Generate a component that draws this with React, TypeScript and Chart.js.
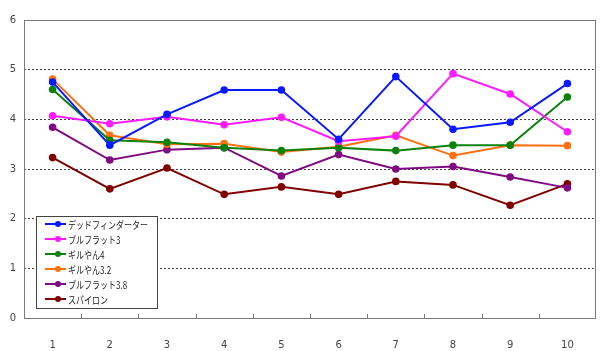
import React, { useEffect, useRef } from "react";
import { Chart, registerables } from "chart.js";

Chart.register(...registerables);

const categories = ["1", "2", "3", "4", "5", "6", "7", "8", "9", "10"];
const seriesNames = ["デッドフィンダーター", "ブルフラット3", "ギルやん4", "ギルやん3.2", "ブルフラット3.8", "スパイロン"];
const deadFinder = [4.75, 3.48, 4.1, 4.59, 4.59, 3.6, 4.86, 3.8, 3.94, 4.72];
const bullFlat3 = [4.07, 3.91, 4.05, 3.89, 4.04, 3.56, 3.66, 4.92, 4.51, 3.75];
const giruyan4 = [4.6, 3.58, 3.54, 3.43, 3.37, 3.43, 3.37, 3.48, 3.48, 4.45];
const giruyan32 = [4.81, 3.68, 3.5, 3.51, 3.34, 3.45, 3.68, 3.27, 3.48, 3.47];
const bullFlat38 = [3.84, 3.18, 3.39, 3.43, 2.86, 3.29, 3.0, 3.05, 2.84, 2.62];
const spiron = [3.23, 2.6, 3.02, 2.49, 2.64, 2.49, 2.75, 2.68, 2.27, 2.7];
const seriesColors = ["#0a1aff", "#ff1aff", "#0b820b", "#ff7010", "#800a80", "#800000"];
const yTicks = [0, 1, 2, 3, 4, 5, 6];

const frameAndLegend = {
  id: "frameAndLegend",
  afterDraw(chart: any) {
    const ctx = chart.ctx;
    const a = chart.chartArea;
    ctx.save();
    ctx.strokeStyle = "#7a7a7a";
    ctx.lineWidth = 1;
    ctx.strokeRect(Math.round(a.left) + 0.5, Math.round(a.top) + 0.5, Math.round(a.right - a.left) - 1, Math.round(a.bottom - a.top));
    const n = categories.length;
    const step = (a.right - a.left) / n;
    for (let i = 1; i < n; i++) {
      const x = Math.round(a.left + step * i) + 0.5;
      ctx.beginPath();
      ctx.moveTo(x, a.bottom);
      ctx.lineTo(x, a.bottom - 4);
      ctx.stroke();
    }
    const bx = a.left + 12;
    const by = 216;
    const bw = 121;
    const bh = 92;
    ctx.fillStyle = "#ffffff";
    ctx.fillRect(bx, by, bw, bh);
    ctx.strokeStyle = "#444";
    ctx.strokeRect(bx + 0.5, by + 0.5, bw, bh);
    ctx.font = "10px 'Noto Sans CJK JP'";
    ctx.textBaseline = "middle";
    chart.data.datasets.forEach((ds: any, i: number) => {
      const y = by + 8 + i * 15;
      ctx.strokeStyle = ds.borderColor;
      ctx.lineWidth = 2;
      ctx.beginPath();
      ctx.moveTo(bx + 9, y);
      ctx.lineTo(bx + 30, y);
      ctx.stroke();
      ctx.fillStyle = ds.borderColor;
      ctx.beginPath();
      ctx.arc(bx + 22, y, 3, 0, Math.PI * 2);
      ctx.fill();
      ctx.fillStyle = "#222";
      const w = ctx.measureText(ds.label).width;
      ctx.fillText(ds.label, bx + 32, y + 1, w * 0.8);
    });
    ctx.restore();
  },
};

export default function App() {
  const ref = useRef<HTMLCanvasElement>(null);
  useEffect(() => {
    document.body.style.margin = "0";
    const values = [deadFinder, bullFlat3, giruyan4, giruyan32, bullFlat38, spiron];
    const chart = new Chart(ref.current!, {
      type: "line",
      data: {
        labels: categories,
        datasets: seriesNames.map((name, i) => ({
          label: name,
          data: values[i],
          borderColor: seriesColors[i],
          backgroundColor: seriesColors[i],
          borderWidth: 2,
          pointRadius: 3.8,
          pointBorderWidth: 0,
          tension: 0,
        })),
      },
      options: {
        responsive: false,
        animation: false,
        layout: { padding: { top: 20, right: 3, left: 0, bottom: 0 } },
        plugins: { legend: { display: false }, tooltip: { enabled: false } },
        scales: {
          x: {
            offset: true,
            grid: { display: false },
            border: { display: false },
            ticks: { color: "#444", font: { family: "DejaVu Sans", size: 10 }, padding: 13 },
            afterFit: (s: any) => { s.height = 33; },
          },
          y: {
            min: 0,
            max: 6,
            afterBuildTicks: (s: any) => { s.ticks = yTicks.map((v) => ({ value: v })); },
            grid: {
              color: (c: any) => (c.tick && (c.tick.value === 0 || c.tick.value === 6) ? "rgba(0,0,0,0)" : "#444"),
              lineWidth: 1,
              tickLength: 0,
            },
            border: { display: false, dash: [2, 2] },
            ticks: { color: "#444", font: { family: "DejaVu Sans", size: 10 }, padding: 8 },
            afterFit: (s: any) => { s.width = 24; },
          },
        },
      },
      plugins: [frameAndLegend],
    } as any);
    return () => chart.destroy();
  }, []);
  return <canvas ref={ref} width={600} height={351} style={{ display: "block" }} />;
}
